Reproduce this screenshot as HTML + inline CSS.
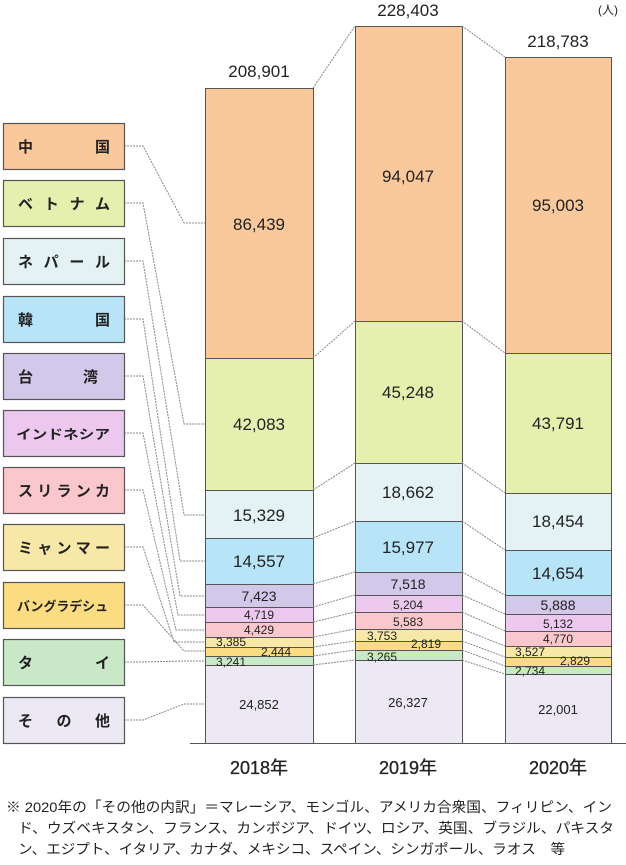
<!DOCTYPE html>
<html><head><meta charset="utf-8"><style>
body{margin:0;background:#fff;}
svg{display:block;font-family:"Liberation Sans","Noto Sans CJK JP",sans-serif;}
</style></head><body>
<svg width="626" height="865" viewBox="0 0 626 865" xmlns="http://www.w3.org/2000/svg">
<g stroke="#555" stroke-width="1">
<rect x="205.5" y="88.5" width="108" height="270" fill="#f9c89b"/>
<rect x="205.5" y="358.5" width="108" height="132" fill="#e6f0ae"/>
<rect x="205.5" y="490.5" width="108" height="48" fill="#e4f2f4"/>
<rect x="205.5" y="538.5" width="108" height="46" fill="#b8e4f8"/>
<rect x="205.5" y="584.5" width="108" height="23" fill="#d2c8ea"/>
<rect x="205.5" y="607.5" width="108" height="15" fill="#ecc8ee"/>
<rect x="205.5" y="622.5" width="108" height="15" fill="#fac8cc"/>
<rect x="205.5" y="637.5" width="108" height="10" fill="#f8e8a8"/>
<rect x="205.5" y="647.5" width="108" height="9" fill="#fcdc80"/>
<rect x="205.5" y="656.5" width="108" height="9" fill="#c8e8c8"/>
<rect x="205.5" y="665.5" width="108" height="78" fill="#ece8f4"/>
<rect x="355.5" y="26.5" width="107" height="295" fill="#f9c89b"/>
<rect x="355.5" y="321.5" width="107" height="142" fill="#e6f0ae"/>
<rect x="355.5" y="463.5" width="107" height="58" fill="#e4f2f4"/>
<rect x="355.5" y="521.5" width="107" height="51" fill="#b8e4f8"/>
<rect x="355.5" y="572.5" width="107" height="23" fill="#d2c8ea"/>
<rect x="355.5" y="595.5" width="107" height="17" fill="#ecc8ee"/>
<rect x="355.5" y="612.5" width="107" height="17" fill="#fac8cc"/>
<rect x="355.5" y="629.5" width="107" height="12" fill="#f8e8a8"/>
<rect x="355.5" y="641.5" width="107" height="9" fill="#fcdc80"/>
<rect x="355.5" y="650.5" width="107" height="10" fill="#c8e8c8"/>
<rect x="355.5" y="660.5" width="107" height="83" fill="#ece8f4"/>
<rect x="505.5" y="57.5" width="106" height="296" fill="#f9c89b"/>
<rect x="505.5" y="353.5" width="106" height="140" fill="#e6f0ae"/>
<rect x="505.5" y="493.5" width="106" height="57" fill="#e4f2f4"/>
<rect x="505.5" y="550.5" width="106" height="45" fill="#b8e4f8"/>
<rect x="505.5" y="595.5" width="106" height="19" fill="#d2c8ea"/>
<rect x="505.5" y="614.5" width="106" height="17" fill="#ecc8ee"/>
<rect x="505.5" y="631.5" width="106" height="15" fill="#fac8cc"/>
<rect x="505.5" y="646.5" width="106" height="11" fill="#f8e8a8"/>
<rect x="505.5" y="657.5" width="106" height="9" fill="#fcdc80"/>
<rect x="505.5" y="666.5" width="106" height="8" fill="#c8e8c8"/>
<rect x="505.5" y="674.5" width="106" height="69" fill="#ece8f4"/>
</g>
<line x1="190" y1="743.5" x2="626" y2="743.5" stroke="#555"/>
<g stroke="#888" stroke-dasharray="2,1" fill="none">
<path d="M313 88L355 26M313 358L355 321M313 490L355 463M313 538L355 521M313 584L355 572M313 607L355 595M313 622L355 612M313 637L355 629M313 647L355 641M313 656L355 650M313 665L355 660"/>
<path d="M462 26L505 57M462 321L505 353M462 463L505 493M462 521L505 550M462 572L505 595M462 595L505 614M462 612L505 631M462 629L505 646M462 641L505 657M462 650L505 666M462 660L505 674"/>
<path d="M124 146H143L184 223H205M124 203H143L184 424H205M124 261H143L184 515H205M124 319H143L180 561H205M124 376H143L180 596H205M124 433H143L178 615H205M124 490H143L176 630H205M124 547H143L174 642H205M124 605H143L184 651H205M124 662H143L184 661H205M124 720H143L184 704H205"/>
</g>
<g stroke="#555" stroke-width="1.2">
<rect x="3.5" y="123.5" width="121" height="46" fill="#f9c89b"/>
<rect x="3.5" y="180.5" width="121" height="46" fill="#e6f0ae"/>
<rect x="3.5" y="238.5" width="121" height="46" fill="#e4f2f4"/>
<rect x="3.5" y="296.5" width="121" height="46" fill="#b8e4f8"/>
<rect x="3.5" y="353.5" width="121" height="46" fill="#d2c8ea"/>
<rect x="3.5" y="410.5" width="121" height="46" fill="#ecc8ee"/>
<rect x="3.5" y="467.5" width="121" height="46" fill="#fac8cc"/>
<rect x="3.5" y="524.5" width="121" height="46" fill="#f8e8a8"/>
<rect x="3.5" y="582.5" width="121" height="46" fill="#fcdc80"/>
<rect x="3.5" y="639.5" width="121" height="46" fill="#c8e8c8"/>
<rect x="3.5" y="697.5" width="121" height="46" fill="#ece8f4"/>
</g>
<g font-size="15" font-weight="bold" fill="#222">
<text x="18" y="152" textLength="92" lengthAdjust="spacing">中国</text>
<text x="18" y="209" textLength="92" lengthAdjust="spacing">ベトナム</text>
<text x="18" y="267" textLength="92" lengthAdjust="spacing">ネパール</text>
<text x="18" y="325" textLength="92" lengthAdjust="spacing">韓国</text>
<text x="18" y="382" textLength="80" lengthAdjust="spacing">台湾</text>
<text x="16" y="439" font-size="13" textLength="94" lengthAdjust="spacingAndGlyphs">インドネシア</text>
<text x="18" y="496" textLength="92" lengthAdjust="spacing">スリランカ</text>
<text x="18" y="553" textLength="92" lengthAdjust="spacing">ミャンマー</text>
<text x="17" y="611" font-size="13" textLength="91" lengthAdjust="spacingAndGlyphs">バングラデシュ</text>
<text x="18" y="668" textLength="92" lengthAdjust="spacing">タイ</text>
<text x="18" y="726" textLength="92" lengthAdjust="spacing">その他</text>
</g>
<g font-size="17" fill="#222" text-anchor="middle">
<text x="259" y="230">86,439</text><text x="259" y="430">42,083</text><text x="259" y="521">15,329</text><text x="259" y="567">14,557</text>
<text x="408" y="182">94,047</text><text x="408" y="398">45,248</text><text x="408" y="498">18,662</text><text x="408" y="553">15,977</text>
<text x="558" y="211">95,003</text><text x="558" y="429">43,791</text><text x="558" y="527">18,454</text><text x="558" y="579">14,654</text>
<text x="259" y="77">208,901</text><text x="408" y="16">228,403</text><text x="558" y="47">218,783</text>
</g>
<g font-size="14" fill="#222" text-anchor="middle">
<text x="259" y="601">7,423</text><text x="408" y="589">7,518</text><text x="558" y="610">5,888</text>
</g>
<g font-size="12" fill="#222" text-anchor="middle">
<text x="259" y="619">4,719</text><text x="259" y="634">4,429</text>
<text x="408" y="609">5,204</text><text x="408" y="626">5,583</text>
<text x="558" y="628">5,132</text><text x="558" y="643">4,770</text>
</g>
<g font-size="12" fill="#222">
<text x="216" y="646">3,385</text><text x="261" y="656">2,444</text><text x="216" y="666">3,241</text>
<text x="367" y="640">3,753</text><text x="411" y="648">2,819</text><text x="367" y="661">3,265</text>
<text x="515" y="656">3,527</text><text x="560" y="665">2,829</text><text x="515" y="675">2,734</text>
</g>
<g font-size="13" fill="#222" text-anchor="middle">
<text x="259" y="709">24,852</text><text x="408" y="707">26,327</text><text x="558" y="714">22,001</text>
</g>
<text x="598" y="14" font-size="12" fill="#222">(人)</text>
<g font-size="18" fill="#222" text-anchor="middle" stroke="#222" stroke-width="0.3">
<text x="259" y="774">2018年</text><text x="408" y="774">2019年</text><text x="558" y="774">2020年</text>
</g>
<g font-size="14" fill="#222">
<text x="6" y="812" textLength="606" lengthAdjust="spacingAndGlyphs">※ 2020年の「その他の内訳」＝マレーシア、モンゴル、アメリカ合衆国、フィリピン、イン</text>
<text x="18" y="833" textLength="596" lengthAdjust="spacingAndGlyphs">ド、ウズベキスタン、フランス、カンボジア、ドイツ、ロシア、英国、ブラジル、パキスタ</text>
<text x="18" y="854" textLength="547" lengthAdjust="spacingAndGlyphs">ン、エジプト、イタリア、カナダ、メキシコ、スペイン、シンガポール、ラオス　等</text>
</g>
</svg>
</body></html>
